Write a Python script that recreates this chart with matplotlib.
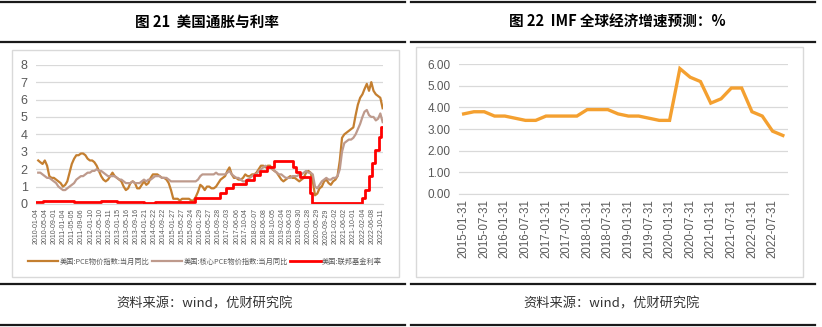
import numpy as np
import pandas as pd
import matplotlib
matplotlib.use('Agg')
import matplotlib.pyplot as plt
from matplotlib.lines import Line2D
from matplotlib.patches import Rectangle

plt.rcParams['font.family'] = ['Liberation Sans', 'Noto Sans CJK SC', 'DejaVu Sans']

# ---- left chart data: monthly yoy, 2010-01 .. 2022-10 ----
pce = [
    2.5, 2.4, 2.3, 2.5, 2.2, 1.6, 1.5, 1.5, 1.4, 1.3, 1.2, 1.0,
    1.1, 1.3, 1.8, 2.3, 2.6, 2.8, 2.8, 2.9, 2.9, 2.8, 2.6, 2.5,
    2.5, 2.4, 2.2, 1.9, 1.6, 1.4, 1.3, 1.4, 1.6, 1.8, 1.6, 1.5,
    1.4, 1.3, 1.0, 0.8, 0.9, 1.2, 1.3, 1.2, 0.9, 0.9, 1.1, 1.3,
    1.1, 1.2, 1.5, 1.7, 1.7, 1.7, 1.6, 1.5, 1.5, 1.4, 1.2, 0.8,
    0.3, 0.3, 0.3, 0.2, 0.3, 0.3, 0.3, 0.3, 0.2, 0.2, 0.4, 0.7,
    1.1, 1.0, 0.8, 1.0, 1.0, 0.9, 0.9, 1.0, 1.2, 1.4, 1.5, 1.6,
    1.9, 2.1, 1.7, 1.5, 1.5, 1.4, 1.4, 1.5, 1.7, 1.6, 1.6, 1.7,
    1.7, 1.8, 2.0, 2.2, 2.2, 2.1, 2.2, 2.2, 2.0, 1.9, 1.8, 1.6,
    1.4, 1.3, 1.4, 1.5, 1.6, 1.5, 1.5, 1.4, 1.3, 1.4, 1.5, 1.8,
    1.9, 1.8, 1.3, 0.5, 0.6, 0.9, 1.0, 1.3, 1.4, 1.2, 1.1, 1.3,
    1.4, 1.6, 2.5, 3.8, 4.0, 4.1, 4.2, 4.3, 4.4, 5.1, 5.7, 6.1,
    6.3, 6.6, 6.9, 6.5, 7.0, 6.5, 6.3, 6.2, 6.1, 5.5,
]
core_pce = [
    1.8, 1.8, 1.7, 1.6, 1.5, 1.5, 1.4, 1.3, 1.2, 1.0, 0.9, 0.8,
    0.8, 0.9, 1.0, 1.1, 1.2, 1.4, 1.5, 1.6, 1.6, 1.7, 1.8, 1.8,
    1.9, 1.9, 2.0, 1.9, 1.9, 1.8, 1.7, 1.6, 1.6, 1.6, 1.6, 1.5,
    1.4, 1.4, 1.3, 1.2, 1.2, 1.2, 1.3, 1.2, 1.2, 1.2, 1.3, 1.4,
    1.3, 1.4, 1.4, 1.5, 1.6, 1.6, 1.6, 1.5, 1.5, 1.5, 1.4, 1.3,
    1.3, 1.3, 1.3, 1.3, 1.3, 1.3, 1.3, 1.3, 1.3, 1.3, 1.3, 1.4,
    1.6, 1.7, 1.7, 1.7, 1.7, 1.7, 1.7, 1.8, 1.7, 1.7, 1.7, 1.7,
    1.8, 1.9, 1.7, 1.6, 1.5, 1.5, 1.4, 1.3, 1.3, 1.4, 1.5, 1.6,
    1.7, 1.7, 1.9, 2.0, 2.1, 2.2, 2.1, 2.1, 2.0, 1.9, 1.8, 1.7,
    1.7, 1.6, 1.5, 1.5, 1.5, 1.6, 1.6, 1.6, 1.7, 1.7, 1.8, 1.9,
    1.8, 1.8, 1.7, 1.0, 0.9, 1.1, 1.3, 1.4, 1.5, 1.4, 1.4, 1.5,
    1.5, 1.6, 2.0, 3.0, 3.5, 3.6, 3.7, 3.7, 3.8, 4.0, 4.3, 4.6,
    5.0, 5.3, 5.4, 5.1, 5.0, 5.0, 4.8, 4.9, 5.2, 4.7,
]
# fed funds rate, step changes (date the level starts)
fed_dates = ['2010-01-01', '2010-04-01', '2011-01-01', '2011-06-01', '2012-01-01',
             '2012-06-01', '2013-01-01', '2013-06-01', '2014-01-01', '2014-06-01',
             '2015-01-01', '2015-11-20', '2016-10-20', '2017-01-15', '2017-04-20',
             '2017-10-10', '2018-01-20', '2018-04-20', '2018-07-20', '2018-10-20',
             '2019-07-01', '2019-08-20', '2019-10-10', '2020-02-25', '2020-03-15',
             '2022-01-25', '2022-03-10', '2022-04-25', '2022-06-10', '2022-07-25',
             '2022-09-06', '2022-10-12', '2022-10-31']
fed_rate = [0.12, 0.2, 0.17, 0.09, 0.1,
            0.16, 0.14, 0.09, 0.07, 0.1,
            0.11, 0.37, 0.65, 0.9, 1.15,
            1.4, 1.65, 1.9, 2.15, 2.45,
            2.12, 1.85, 1.55, 0.65, 0.08,
            0.33, 0.83, 1.58, 2.33, 3.08,
            3.83, 4.4, 4.4]
left_ticks = ['2010-01-04', '2010-05-04', '2010-09-01', '2011-01-04', '2011-05-05',
              '2011-09-06', '2012-01-10', '2012-05-10', '2012-09-11', '2013-01-15',
              '2013-05-16', '2013-09-16', '2014-01-21', '2014-05-22', '2014-09-22',
              '2015-01-27', '2015-05-27', '2015-09-24', '2016-01-29', '2016-05-27',
              '2016-09-28', '2017-02-03', '2017-06-06', '2017-10-04', '2018-02-07',
              '2018-06-08', '2018-10-05', '2019-02-04', '2019-06-03', '2019-09-30',
              '2020-01-28', '2020-05-29', '2020-09-29', '2021-02-02', '2021-06-02',
              '2021-10-01', '2022-02-04', '2022-06-08', '2022-10-11']
left_labels = ['美国:PCE物价指数:当月同比', '美国:核心PCE物价指数:当月同比', '美国:联邦基金利率']

# ---- right chart data: IMF world growth forecast, quarterly ----
imf_quarters = [f'{y}-{m}' for y in range(2015, 2023)
                for m in ('01-31', '04-30', '07-31', '10-31')]
imf_growth = [3.7, 3.8, 3.8, 3.6, 3.6, 3.5, 3.4, 3.4,
              3.6, 3.6, 3.6, 3.6, 3.9, 3.9, 3.9, 3.7,
              3.6, 3.6, 3.5, 3.4, 3.4, 5.8, 5.4, 5.2,
              4.2, 4.4, 4.9, 4.9, 3.8, 3.6, 2.9, 2.7]

W, H = 822, 327
fig = plt.figure(figsize=(W / 100, H / 100), dpi=100)
fig.patch.set_facecolor('white')


def px_axes(x0, y0, x1, y1):
    return fig.add_axes([x0 / W, 1 - y1 / H, (x1 - x0) / W, (y1 - y0) / H])


def hline(y, x0, x1, lw=1.6, color='#1a1a1a'):
    fig.add_artist(Line2D([x0 / W, x1 / W], [1 - y / H, 1 - y / H],
                          color=color, lw=lw, transform=fig.transFigure))


def box(x0, y0, x1, y1):
    fig.add_artist(Rectangle((x0 / W, 1 - y1 / H), (x1 - x0) / W, (y1 - y0) / H,
                             transform=fig.transFigure, fill=False,
                             edgecolor='#D9D9D9', lw=1.0))


grid_c = '#D9D9D9'
tick_c = '#595959'

# frame lines, titles, footers
for x0, x1 in ((0, 405), (411, 815)):
    hline(2, x0, x1)
    hline(42, x0, x1)
    hline(284, x0, x1)
    hline(325, x0, x1)
box(12, 50, 399, 277)
box(416, 47, 803, 277)

title_font = ['Noto Sans CJK SC', 'DejaVu Sans']
fig.text(207 / W, 1 - 22 / H, '图 21  美国通胀与利率', ha='center', va='center',
         fontsize=10.5, fontweight='bold', family=title_font)
fig.text(617 / W, 1 - 22 / H, '图 22  IMF 全球经济增速预测：%', ha='center', va='center',
         fontsize=10.5, fontweight='bold', family=title_font)
for cx in (205, 612):
    fig.text(cx / W, 1 - 304 / H, '资料来源：wind，优财研究院', ha='center', va='center',
             fontsize=9.5, color='#333333', family=title_font)

# ---- left chart ----
ax1 = px_axes(36, 64.7, 383, 204)
months = pd.date_range('2010-01-31', periods=len(pce), freq=pd.offsets.MonthEnd())
l1, = ax1.plot(months, pce, color='#C47F30', lw=1.6)
l2, = ax1.plot(months, core_pce, color='#BE9A8C', lw=1.6)
l3, = ax1.plot(pd.to_datetime(fed_dates), fed_rate, color='#FF0000', lw=2.0,
               drawstyle='steps-post')
ax1.set_xlim(pd.Timestamp('2010-01-01'), pd.Timestamp('2022-11-05'))
ax1.set_ylim(0, 8)
ax1.set_yticks(range(0, 9))
ax1.set_xticks(pd.to_datetime(left_ticks))
ax1.set_xticklabels(left_ticks, rotation=90, fontsize=5, color=tick_c)
ax1.tick_params(axis='y', labelsize=9, colors=tick_c, length=0, pad=6)
ax1.tick_params(axis='x', length=0, pad=3)
ax1.grid(axis='y', color=grid_c, lw=0.9)
ax1.set_axisbelow(True)
for s in ('top', 'right', 'left'):
    ax1.spines[s].set_visible(False)
ax1.spines['bottom'].set_color(grid_c)
ax1.legend([l1, l2, l3], left_labels, loc='center', ncol=3,
           bbox_to_anchor=(205 / W, 1 - 262 / H), bbox_transform=fig.transFigure,
           frameon=False, handlelength=4.2, handletextpad=0.2, columnspacing=0.3,
           prop={'family': ['Noto Sans CJK SC', 'DejaVu Sans'], 'size': 5.2},
           labelcolor=tick_c)

# ---- right chart ----
ax2 = px_axes(459, 64.3, 788, 193.7)
xs = np.arange(len(imf_growth))
ax2.plot(xs, imf_growth, color='#F4A030', lw=2.4, solid_joinstyle='miter')
ax2.set_xlim(-0.45, len(imf_growth) - 0.5)
ax2.set_ylim(0, 6)
ax2.set_yticks(range(0, 7))
ax2.set_yticklabels([f'{v:.2f}' for v in range(0, 7)])
ax2.set_xticks(xs[::2])
ax2.set_xticklabels(imf_quarters[::2], rotation=90, fontsize=8.3, color=tick_c)
ax2.tick_params(axis='y', labelsize=8.5, colors=tick_c, length=0, pad=6)
ax2.tick_params(axis='x', length=0, pad=4)
ax2.grid(axis='y', color=grid_c, lw=0.9)
ax2.set_axisbelow(True)
for s in ('top', 'right', 'left'):
    ax2.spines[s].set_visible(False)
ax2.spines['bottom'].set_color(grid_c)

fig.savefig('out.png', dpi=100)
